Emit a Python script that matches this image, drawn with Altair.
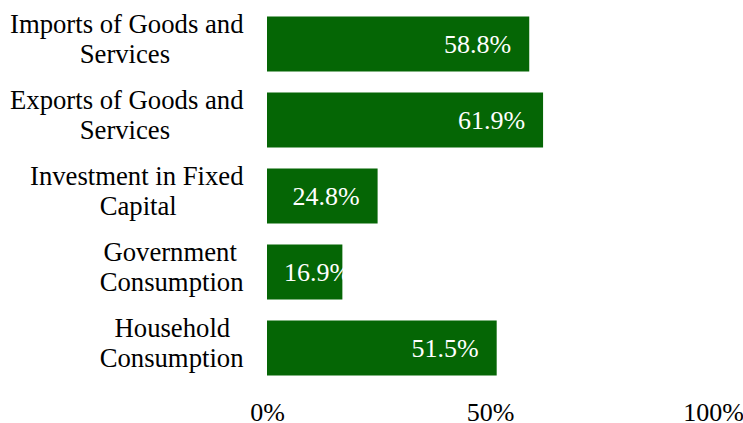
import altair as alt
import pandas as pd

# Data
cat_lines = [
    ["Imports of Goods and", "Services"],
    ["Exports of Goods and", "Services"],
    ["Investment in Fixed", "Capital"],
    ["Government", "Consumption"],
    ["Household", "Consumption"],
]
values = [58.8, 61.9, 24.8, 16.9, 51.5]
x_ticks = [0, 50, 100]

# Approximate Times widths (1/1000 em) to centre the lines of each label
W = {" ": 250, "a": 444, "b": 500, "c": 444, "d": 500, "e": 444, "f": 333,
     "h": 500, "i": 278, "l": 278, "m": 778, "n": 500, "o": 500, "p": 500,
     "r": 333, "s": 389, "t": 278, "u": 500, "v": 500, "x": 500, "C": 667,
     "E": 611, "F": 556, "G": 722, "H": 722, "I": 333, "S": 556}


def width(s):
    return sum(W.get(ch, 500) for ch in s)


def centred(lines):
    mw = max(width(l) for l in lines)
    out = []
    for l in lines:
        n = int(round((mw - width(l)) / 2 / 250))
        out.append(l + "\u00a0" * n + ("\u2060" if n else ""))
    return "|".join(out)


cats = [centred(l) for l in cat_lines]
df = pd.DataFrame({"cat": cats, "value": values})

FONT = "Liberation Serif"
GREEN = "#056605"

y = alt.Y("cat:N", sort=None, title=None,
          scale=alt.Scale(paddingInner=0.276, paddingOuter=0.138),
          axis=alt.Axis(labelExpr="split(datum.label, '|')", labelAlign="right",
                        labelBaseline="middle", labelPadding=24, ticks=False,
                        tickSize=0, domain=False, labelFontSize=26.7,
                        labelLineHeight=30, labelFont=FONT, labelColor="#000",
                        labelLimit=400, labelOffset=-19))

x = alt.X("value:Q", title=None,
          scale=alt.Scale(domain=[0, 100], nice=False),
          axis=alt.Axis(values=x_ticks, labelExpr="datum.value + '%'",
                        grid=False, ticks=False, tickSize=0, domain=False,
                        labelFontSize=26, labelFont=FONT, labelColor="#000",
                        labelPadding=13, labelFlush=False))

base = alt.Chart(df)
bars = base.mark_bar(color=GREEN).encode(x=x, y=y)
text = base.transform_calculate(
    pos="max(datum.value, 22.9)",
    lab="format(datum.value, '.1f') + '%'",
).mark_text(align="right", baseline="middle", dx=-18, dy=1, fontSize=26,
            font=FONT, color="white").encode(
    x=alt.X("pos:Q", scale=alt.Scale(domain=[0, 100], nice=False)),
    y=alt.Y("cat:N", sort=None),
    text="lab:N",
)

chart = (bars + text).properties(
    width=446, height=380,
    autosize=alt.AutoSizeParams(type="none"),
    padding={"left": 267, "top": 6, "right": 30, "bottom": 37},
).configure_view(stroke=None)

chart.save("out.html", embed_options={"renderer": "svg", "actions": False})
